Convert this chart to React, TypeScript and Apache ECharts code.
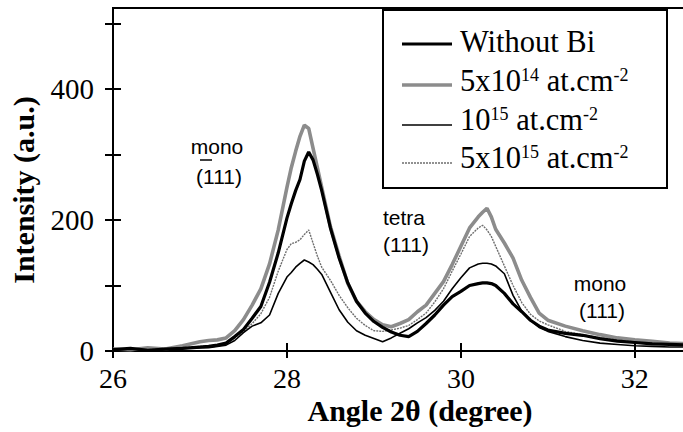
import React, { useEffect, useRef } from "react";
import * as echarts from "echarts";

// Diffraction angle 2θ (degree)
const angles = [
  26.0, 26.2, 26.4, 26.6, 26.8, 27.0, 27.1, 27.2, 27.3, 27.4, 27.5, 27.6, 27.7, 27.8, 27.9,
  28.0, 28.05, 28.1, 28.15, 28.2, 28.25, 28.3, 28.35, 28.4, 28.5, 28.6, 28.7, 28.8, 28.9,
  29.0, 29.1, 29.2, 29.3, 29.4, 29.5, 29.6, 29.7, 29.8, 29.9, 30.0, 30.1, 30.2, 30.25, 30.3,
  30.35, 30.4, 30.5, 30.6, 30.7, 30.8, 30.9, 31.0, 31.2, 31.4, 31.6, 31.8, 32.0, 32.2, 32.4, 32.6,
];

const withoutBi = [
  2, 4, 1, 3, 4, 6, 7, 9, 12, 22, 33, 50, 68, 105, 150,
  203, 225, 245, 262, 290, 304, 292, 270, 245, 188, 142, 104, 76, 58,
  45, 36, 29, 24, 22, 30, 42, 55, 70, 83, 91, 100, 103, 104, 104,
  103, 100, 88, 72, 60, 47, 38, 32, 27, 24, 19, 15, 13, 11, 10, 9,
];

const dose5e14 = [
  3, 2, 5, 3, 8, 14, 16, 17, 20, 31, 48, 70, 95, 133, 185,
  250, 280, 305, 328, 345, 340, 310, 280, 250, 190, 145, 103, 76, 60,
  48, 40, 37, 42, 48, 60, 70, 88, 106, 132, 160, 188, 205, 212, 218,
  205, 186, 165, 142, 108, 82, 58, 47, 38, 31, 25, 20, 17, 15, 12, 11,
];

const dose1e15 = [
  1, 3, 2, 2, 4, 5, 5, 7, 9, 16, 28, 38, 43, 55, 88,
  113, 120, 128, 134, 139, 136, 132, 125, 117, 90, 63, 44, 31, 24,
  19, 14, 20, 27, 34, 43, 51, 62, 76, 95, 112, 127, 133, 134, 134,
  133, 130, 118, 85, 61, 47, 36, 30, 22, 16, 12, 10, 8, 7, 6, 6,
];

const dose5e15 = [
  2, 3, 2, 4, 5, 7, 8, 9, 12, 20, 30, 42, 57, 82, 122,
  155, 164, 166, 170, 178, 185, 165, 145, 128, 108, 85, 66, 50, 39,
  31, 30, 32, 35, 39, 48, 58, 75, 95, 122, 148, 175, 188, 192, 185,
  175, 160, 130, 100, 74, 56, 46, 40, 30, 25, 20, 17, 14, 12, 10, 9,
];

const seriesNames = ["Without Bi", "5x10^14 at.cm-2", "10^15 at.cm-2", "5x10^15 at.cm-2"];
const legendLabels = [
  "Without Bi",
  "5x10{sup|14} at.cm{sup|-2}",
  "10{sup|15} at.cm{sup|-2}",
  "5x10{sup|15} at.cm{sup|-2}",
];
const xLabelValues = [26, 28, 30, 32];
const yLabelValues = [0, 200, 400];
const xTitle = "Angle 2θ (degree)";
const yTitle = "Intensity (a.u.)";
const peakLabels = [
  { name: "mono", hkl: "(111)" },
  { name: "tetra", hkl: "(111)" },
  { name: "mono", hkl: "(111)" },
];

const SERIF = "'Liberation Serif', 'Times New Roman', serif";
const SANS = "'Liberation Sans', Arial, sans-serif";

const styles = [
  { color: "#000000", width: 3.2, type: "solid" as any },
  { color: "#8c8c8c", width: 3.6, type: "solid" as any },
  { color: "#000000", width: 1.6, type: "solid" as any },
  { color: "#6e6e6e", width: 1.4, type: [2, 1] as any },
];

export default function App() {
  const ref = useRef<HTMLDivElement>(null);
  useEffect(() => {
    if (!ref.current) return;
    const chart = echarts.init(ref.current, undefined, { renderer: "svg" });
    const dataSets = [withoutBi, dose5e14, dose1e15, dose5e15];
    const drawOrder = [1, 3, 2, 0];
    const series: any[] = drawOrder.map((k, i) => ({
      name: seriesNames[k],
      type: "line",
      xAxisIndex: 0,
      yAxisIndex: 0,
      showSymbol: false,
      symbol: "none",
      z: 2 + i,
      data: angles.map((a, j) => [a, dataSets[k][j]]),
      lineStyle: { color: styles[k].color, width: styles[k].width, type: styles[k].type },
    }));

    const legendRows = [44, 85, 125, 163];
    const legendTextY = [42, 81, 120, 158];
    const legendEls: any[] = [
      {
        type: "rect",
        shape: { x: 383, y: 10, width: 284, height: 178 },
        style: { fill: "#ffffff", stroke: "#000000", lineWidth: 2 },
        z: 100,
      },
    ];
    legendLabels.forEach((lab, i) => {
      legendEls.push({
        type: "line",
        shape: { x1: 402, y1: legendRows[i], x2: 452, y2: legendRows[i] },
        style: {
          stroke: styles[i].color,
          lineWidth: styles[i].width,
          lineDash: Array.isArray(styles[i].type) ? styles[i].type : null,
        },
        z: 101,
      });
      legendEls.push({
        type: "text",
        x: 460,
        y: legendTextY[i],
        z: 101,
        style: {
          text: lab,
          fontFamily: SERIF,
          fontSize: 30.5,
          fill: "#000",
          align: "left",
          verticalAlign: "middle",
          rich: {
            sup: { fontFamily: SERIF, fontSize: 18, fill: "#000", verticalAlign: "top", lineHeight: 30 },
          },
        },
      });
    });

    const annPos = [
      { x: 217, y1: 146, y2: 176 },
      { x: 404, y1: 217, y2: 244 },
      { x: 600, y1: 283, y2: 310 },
    ];
    const annEls: any[] = [];
    peakLabels.forEach((p, i) => {
      annEls.push({
        type: "text",
        x: annPos[i].x,
        y: annPos[i].y1,
        style: { text: p.name, fontFamily: SANS, fontSize: 21, fill: "#000", align: "center", verticalAlign: "middle" },
        z: 50,
      });
      annEls.push({
        type: "text",
        x: annPos[i].x + 2,
        y: annPos[i].y2,
        style: { text: p.hkl, fontFamily: SANS, fontSize: 21, fill: "#000", align: "center", verticalAlign: "middle" },
        z: 50,
      });
    });
    // overbar on the first index of the monoclinic (-111) reflection
    annEls.push({
      type: "line",
      shape: { x1: 200, y1: 160, x2: 212, y2: 160 },
      style: { stroke: "#000", lineWidth: 1.5 },
      z: 50,
    });

    const titleEls: any[] = [
      {
        type: "text",
        x: 420,
        y: 410,
        style: { text: xTitle, fontFamily: SERIF, fontWeight: "bold", fontSize: 30, fill: "#000", align: "center", verticalAlign: "middle" },
      },
      {
        type: "text",
        x: 23,
        y: 190,
        rotation: Math.PI / 2,
        style: { text: yTitle, fontFamily: SERIF, fontWeight: "bold", fontSize: 30, fill: "#000", align: "center", verticalAlign: "middle" },
      },
    ];

    const xBase = {
      type: "value",
      min: 26,
      max: 32.6,
      interval: 2,
      position: "bottom",
      splitLine: { show: false },
    };
    const yBase = {
      type: "value",
      min: 0,
      max: 524,
      interval: 100,
      position: "left",
      splitLine: { show: false },
    };

    chart.setOption({
      animation: false,
      backgroundColor: "#ffffff",
      grid: {
        left: 113,
        right: -4,
        top: 8,
        bottom: 81,
        containLabel: false,
        outerBoundsMode: "none",
        show: true,
        borderColor: "#000",
        borderWidth: 2,
        backgroundColor: "transparent",
      },
      xAxis: [
        {
          ...xBase,
          axisLine: { show: true, lineStyle: { color: "#000", width: 2 } },
          axisTick: { show: true, inside: false, length: 7, lineStyle: { color: "#000", width: 2 } },
          axisLabel: {
            show: true,
            showMaxLabel: false,
            margin: 13,
            fontFamily: SERIF,
            fontSize: 28,
            color: "#000",
            formatter: (v: number) => (xLabelValues.includes(v) ? String(v) : ""),
          },
        },
        {
          ...xBase,
          axisLine: { show: false },
          axisTick: { show: true, inside: true, length: 8, lineStyle: { color: "#000", width: 2 } },
          axisLabel: { show: false },
        },
      ],
      yAxis: [
        {
          ...yBase,
          axisLine: { show: true, lineStyle: { color: "#000", width: 2 } },
          axisTick: { show: true, inside: false, length: 8, lineStyle: { color: "#000", width: 2 } },
          axisLabel: {
            show: true,
            showMaxLabel: false,
            margin: 19,
            fontFamily: SERIF,
            fontSize: 29,
            color: "#000",
            formatter: (v: number) => (yLabelValues.includes(v) ? String(v) : ""),
          },
        },
        {
          ...yBase,
          axisLine: { show: false },
          axisTick: { show: true, inside: true, length: 8, lineStyle: { color: "#000", width: 2 } },
          axisLabel: { show: false },
        },
      ],
      series,
      graphic: [...titleEls, ...annEls, ...legendEls],
    });
    return () => chart.dispose();
  }, []);
  return (
    <div
      ref={ref}
      style={{ position: "fixed", left: 0, top: 0, width: 683, height: 432, background: "#fff" }}
    />
  );
}
